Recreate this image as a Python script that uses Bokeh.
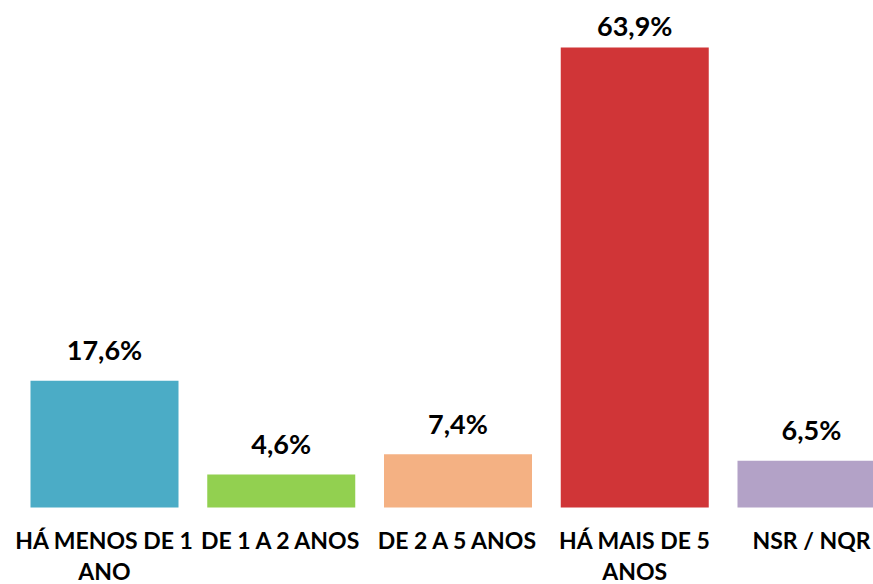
import numpy as np
from bokeh.plotting import figure
from bokeh.models import ColumnDataSource, Range1d
from bokeh.core.properties import value
from bokeh.embed import file_html
from bokeh.resources import INLINE

categories = ["HÁ MENOS DE 1\nANO", "DE 1 A 2 ANOS", "DE 2 A 5 ANOS", "HÁ MAIS DE 5\nANOS", "NSR / NQR"]
values = [17.6, 4.6, 7.4, 63.9, 6.5]
value_labels = ["17,6%", "4,6%", "7,4%", "63,9%", "6,5%"]
colors = ["#4BACC6", "#92D050", "#F4B183", "#D03537", "#B3A2C7"]

W, H = 873, 584
ppu = 7.199          # pixels per percentage point
base_px = 507        # baseline distance from top of frame
pitch = 176.75       # px between bar centres
first_center = 104

x = np.arange(len(values))
vals = np.array(values)
label_y = np.minimum(vals + 31 / ppu, (base_px - 25) / ppu)

src = ColumnDataSource(dict(x=x, top=vals, color=colors, cat=categories,
                            vlab=value_labels, ly=label_y, zero=np.zeros(len(x))))

x0 = -first_center / pitch
p = figure(width=W, height=H, output_backend="svg", toolbar_location=None,
           x_range=Range1d(x0, x0 + W / pitch),
           y_range=Range1d(-(H - base_px) / ppu, base_px / ppu),
           min_border=0, min_border_left=0, min_border_right=0,
           min_border_top=0, min_border_bottom=0)
p.axis.visible = False
p.grid.visible = False
p.outline_line_color = None
p.background_fill_color = "white"

p.vbar(x="x", top="top", bottom=0, width=148 / pitch, color="color", line_color=None, source=src)

p.text(x="x", y="ly", text="vlab", source=src, text_align="center", text_baseline="alphabetic",
       text_font=value("Lato"), text_font_style="bold", text_font_size="27px", text_color="#000000")

p.text(x="x", y="zero", text="cat", source=src, text_align="center", text_baseline="top",
       y_offset=18, text_font=value("Lato"), text_font_style="bold", text_font_size="23px",
       text_color="#000000", text_line_height=1.13)

open("out.html", "w").write(file_html(p, INLINE))
